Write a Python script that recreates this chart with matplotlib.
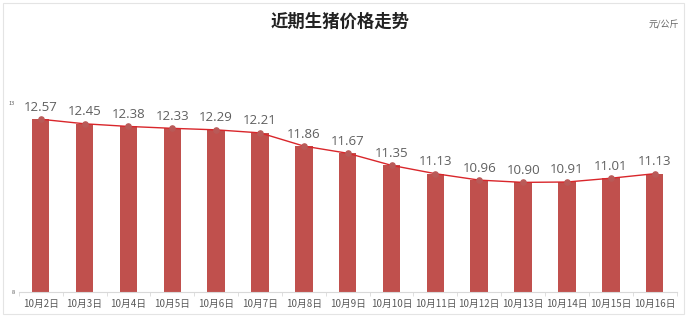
import matplotlib.pyplot as plt
from matplotlib.patches import Rectangle
import numpy as np

# recent hog prices, yuan per kg
dates = ["10月2日", "10月3日", "10月4日", "10月5日", "10月6日", "10月7日", "10月8日", "10月9日",
         "10月10日", "10月11日", "10月12日", "10月13日", "10月14日", "10月15日", "10月16日"]
prices = [12.57, 12.45, 12.38, 12.33, 12.29, 12.21, 11.86, 11.67,
          11.35, 11.13, 10.96, 10.90, 10.91, 11.01, 11.13]
yticks = [8, 13]

plt.rcParams['font.family'] = ['Noto Sans CJK SC', 'DejaVu Sans']

fig = plt.figure(figsize=(6.88, 3.31), dpi=100)
fig.patches.append(Rectangle((3 / 688, 17 / 331), 681 / 688, 311 / 331, transform=fig.transFigure,
                             fill=False, edgecolor='#e4e4e4', lw=0.8))
ax = fig.add_axes([18.8 / 688, 39 / 331, 657.8 / 688, 189 / 331])

x = np.arange(len(dates))
ax.bar(x, prices, width=0.4, color='#C0504D', zorder=2)
ax.plot(x, prices, color='#d9262b', lw=1.0, zorder=3)
ax.scatter(x, prices, s=14, color='#b95a58', zorder=4)
for xi, v in zip(x, prices):
    ax.annotate(f"{v:.2f}", (xi, v), xytext=(0, 4), textcoords='offset points',
                ha='center', va='bottom', fontsize=9.5, color='#5f5f5f', family='Open Sans')

ax.set_xlim(-0.5, len(dates) - 0.5)
ax.set_ylim(8, 13)
ax.set_yticks(yticks)
ax.set_yticklabels([str(t) for t in yticks], fontsize=4, color='#595959')
ax.set_xticks(x)
ax.set_xticklabels(dates, fontsize=7, color='#595959')
ax.set_xticks(np.arange(-0.5, len(dates), 1), minor=True)
ax.tick_params(axis='x', which='major', length=0, pad=5)
ax.tick_params(axis='x', which='minor', length=3, color='#d9d9d9')
ax.tick_params(axis='y', length=0, pad=3)
for s in ['top', 'right', 'left']:
    ax.spines[s].set_visible(False)
ax.spines['bottom'].set_color('#d9d9d9')

fig.text(0.495, 0.935, "近期生猪价格走势", ha='center', va='center', fontsize=12.5,
         fontweight='bold', color='#222222')
fig.text(0.965, 0.925, "元/公斤", ha='center', va='center', fontsize=6.5, color='#666666')

fig.savefig("out.png", dpi=100)
